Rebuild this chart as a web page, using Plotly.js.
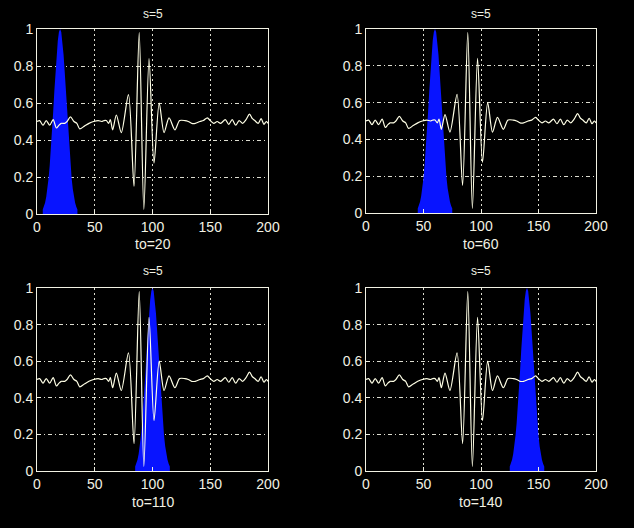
<!DOCTYPE html>
<html>
<head>
<meta charset="utf-8">
<script src="https://cdn.plot.ly/plotly-3.0.1.min.js"></script>
<style>
html,body{margin:0;padding:0;background:#000;}
#chart{width:634px;height:528px;}
</style>
</head>
<body>
<div id="chart"></div>
<script>
// ---- data ----
const signalT = [0, 2.3, 5.2, 8, 11, 14, 16.8, 19, 21, 24, 26, 29, 32, 34.5, 37, 41, 45, 49, 53, 56, 58, 60, 62, 63.5, 65.5, 68.7, 73, 79.2, 84, 88.5, 92.5, 97, 101.3, 105.8, 110, 114.3, 119.4, 123.5, 128, 131, 134, 137, 141, 144, 147.5, 150, 153, 156, 159, 163, 166, 169, 172, 175, 178, 181, 184, 186.5, 188.5, 191.5, 194, 196.5, 198.5, 200];
const signalV = [0.50, 0.505, 0.48, 0.505, 0.48, 0.51, 0.465, 0.48, 0.49, 0.49, 0.50, 0.525, 0.50, 0.49, 0.46, 0.475, 0.49, 0.50, 0.505, 0.50, 0.505, 0.505, 0.49, 0.51, 0.455, 0.535, 0.44, 0.645, 0.15, 0.98, 0.025, 0.84, 0.275, 0.60, 0.44, 0.52, 0.455, 0.505, 0.505, 0.50, 0.49, 0.49, 0.50, 0.505, 0.52, 0.505, 0.49, 0.50, 0.49, 0.51, 0.485, 0.51, 0.48, 0.505, 0.49, 0.51, 0.54, 0.515, 0.505, 0.49, 0.515, 0.485, 0.50, 0.49];

const windowOffsets = [-15, -14, -13, -12, -11, -10, -9, -8, -7, -6, -5, -4, -3, -2, -1, 0, 1, 2, 3, 4, 5, 6, 7, 8, 9, 10, 11, 12, 13, 14, 15];
const windowHeights = [0.024, 0.039, 0.061, 0.093, 0.135, 0.192, 0.262, 0.347, 0.445, 0.551, 0.662, 0.768, 0.862, 0.936, 0.984, 1.0, 0.984, 0.936, 0.862, 0.768, 0.662, 0.551, 0.445, 0.347, 0.262, 0.192, 0.135, 0.093, 0.061, 0.039, 0.024];
const windowCenters = [20, 60, 100, 140];

const panelTitles = ["s=5", "s=5", "s=5", "s=5"];
const panelLabels = ["to=20", "to=60", "to=110", "to=140"];
const xTicks = [0, 50, 100, 150, 200];
const yTicks = [0, 0.2, 0.4, 0.6, 0.8, 1];

// ---- layout ----
const W = 634, H = 528;
const panels = [
  {x: [37, 268], y: [29, 214], title: 14, label: 244},
  {x: [366, 596], y: [29, 213], title: 14, label: 244},
  {x: [37, 268], y: [288, 471], title: 271, label: 502},
  {x: [366, 596], y: [288, 471], title: 271, label: 502}
];
const fg = '#F2F2E4';
const font = 'Liberation Sans, Arial, sans-serif';

const traces = [];
const layout = {
  width: W, height: H,
  paper_bgcolor: '#000', plot_bgcolor: '#000',
  margin: {l: 0, r: 0, t: 0, b: 0},
  showlegend: false,
  font: {family: font, color: fg, size: 14},
  annotations: []
};

panels.forEach((p, i) => {
  const n = i === 0 ? '' : String(i + 1);
  const xa = 'x' + n, ya = 'y' + n;
  traces.push({
    type: 'scatter', mode: 'lines', xaxis: xa, yaxis: ya,
    x: windowOffsets.map(o => windowCenters[i] + o),
    y: windowHeights,
    fill: 'tozeroy', fillcolor: 'rgb(8,20,255)',
    line: {width: 0, color: 'rgb(8,20,255)'},
    hoverinfo: 'skip'
  });
  traces.push({
    type: 'scatter', mode: 'lines', xaxis: xa, yaxis: ya,
    x: signalT, y: signalV,
    line: {color: '#FFFFE6', width: 1.2, shape: 'spline', smoothing: 0.8}
  });
  const axCommon = {
    showline: true, linecolor: fg, linewidth: 1, mirror: true,
    ticks: 'inside', ticklen: 4, tickcolor: fg,
    showgrid: true, gridcolor: '#DDDDD0', gridwidth: 1,
    zeroline: false, fixedrange: true,
    tickfont: {family: font, size: 14, color: fg}
  };
  layout['xaxis' + n] = Object.assign({}, axCommon, {
    domain: [p.x[0] / W, p.x[1] / W], anchor: ya,
    range: [0, 200], tickvals: xTicks, ticktext: xTicks.map(String),
    griddash: '2px,3px'
  });
  layout['yaxis' + n] = Object.assign({}, axCommon, {
    domain: [1 - p.y[1] / H, 1 - p.y[0] / H], anchor: xa,
    range: [0, 1], tickvals: yTicks, ticktext: yTicks.map(String),
    griddash: '4px,3px,1px,3px'
  });
  const cx = (p.x[0] + p.x[1]) / 2 / W;
  layout.annotations.push({
    text: panelTitles[i], xref: 'paper', yref: 'paper',
    x: cx, y: 1 - p.title / H, xanchor: 'center', yanchor: 'middle',
    showarrow: false, font: {family: font, size: 12, color: fg}
  });
  layout.annotations.push({
    text: panelLabels[i], xref: 'paper', yref: 'paper',
    x: cx, y: 1 - p.label / H, xanchor: 'center', yanchor: 'middle',
    showarrow: false, font: {family: font, size: 14, color: fg}
  });
});

Plotly.newPlot('chart', traces, layout, {displayModeBar: false, staticPlot: true});
</script>
</body>
</html>
